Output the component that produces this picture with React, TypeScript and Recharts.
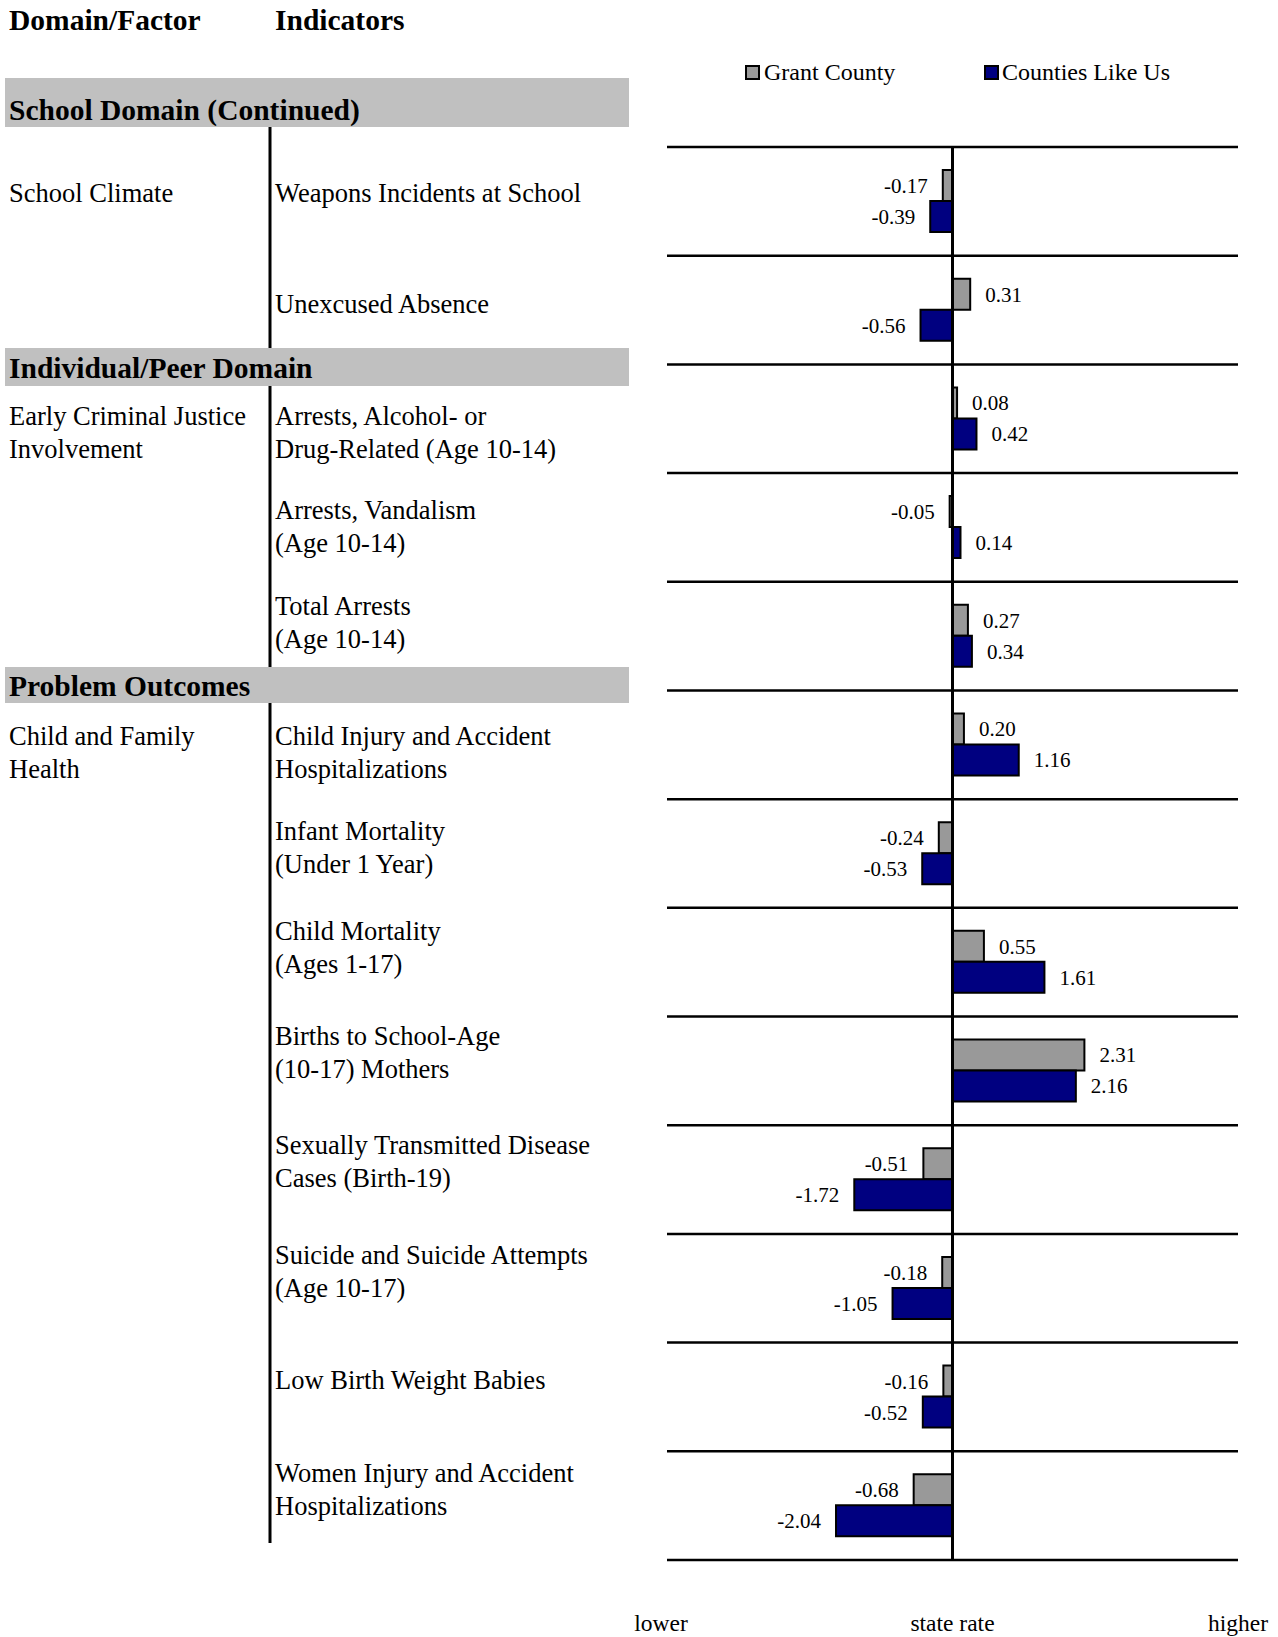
import React from 'react'
import { BarChart, Bar, XAxis, YAxis, ReferenceLine, LabelList } from 'recharts'

// Indicators, top to bottom (each entry is the lines of the label)
const indicatorLines = [
  ['Weapons Incidents at School'],
  ['Unexcused Absence'],
  ['Arrests, Alcohol- or', 'Drug-Related (Age 10-14)'],
  ['Arrests, Vandalism', '(Age 10-14)'],
  ['Total Arrests', '(Age 10-14)'],
  ['Child Injury and Accident', 'Hospitalizations'],
  ['Infant Mortality', '(Under 1 Year)'],
  ['Child Mortality', '(Ages 1-17)'],
  ['Births to School-Age', '(10-17) Mothers'],
  ['Sexually Transmitted Disease', 'Cases (Birth-19)'],
  ['Suicide and Suicide Attempts', '(Age 10-17)'],
  ['Low Birth Weight Babies'],
  ['Women Injury and Accident', 'Hospitalizations'],
]

const grantCounty = [-0.17, 0.31, 0.08, -0.05, 0.27, 0.2, -0.24, 0.55, 2.31, -0.51, -0.18, -0.16, -0.68]
const countiesLikeUs = [-0.39, -0.56, 0.42, 0.14, 0.34, 1.16, -0.53, 1.61, 2.16, -1.72, -1.05, -0.52, -2.04]

const seriesNames = ['Grant County', 'Counties Like Us']

const sectionTitles = ['School Domain (Continued)', 'Individual/Peer Domain', 'Problem Outcomes']
const factorLines = [['School Climate'], ['Early Criminal Justice', 'Involvement'], ['Child and Family', 'Health']]
const factorRows = [0, 2, 5]

const axisTicks = [-5, 0, 5]
const axisWords = ['lower', 'state rate', 'higher']

// layout of the table beside the chart
const rowBaselines = [202, 313, 425, 519, 615, 745, 840, 940, 1045, 1154, 1264, 1389, 1482]
const sectionBands = [
  { top: 78, height: 49, base: 120 },
  { top: 348, height: 38, base: 378 },
  { top: 667, height: 36, base: 696 },
]
const LINE_GAP = 33

const GRAY = '#999999'
const NAVY = '#000080'
const FONT = '"Liberation Serif", "Times New Roman", serif'

const data = indicatorLines.map((lines, i) => ({
  name: lines.join(' '),
  grant: grantCounty[i],
  counties: countiesLikeUs[i],
}))

function AxisTick({ x, y, payload }: any) {
  const i = axisTicks.indexOf(payload.value)
  return (
    <text x={x + (i === 0 ? -6 : 0)} y={y + 63} textAnchor="middle" fontSize={23.5} fontFamily={FONT} fill="#000">
      {axisWords[i]}
    </text>
  )
}

const fmt = (v: any) => Number(v).toFixed(2)

function Table() {
  return (
    <svg width={1278} height={1637} style={{ position: 'absolute', left: 0, top: 0 }} fontFamily={FONT}>
      <text x={9} y={30} fontSize={29.5} fontWeight="bold">Domain/Factor</text>
      <text x={275} y={30} fontSize={29.5} fontWeight="bold">Indicators</text>

      <line x1={270} x2={270} y1={127} y2={1543} stroke="#000" strokeWidth={3} />

      {sectionBands.map((b, i) => (
        <g key={i}>
          <rect x={5} y={b.top} width={624} height={b.height} fill="#c0c0c0" />
          <text x={9} y={b.base} fontSize={29.5} fontWeight="bold">{sectionTitles[i]}</text>
        </g>
      ))}

      {factorLines.map((lines, i) =>
        lines.map((t, j) => (
          <text key={i + '-' + j} x={9} y={rowBaselines[factorRows[i]] + j * LINE_GAP} fontSize={26.5}>
            {t}
          </text>
        ))
      )}

      {indicatorLines.map((lines, i) =>
        lines.map((t, j) => (
          <text key={i + '-' + j} x={275} y={rowBaselines[i] + j * LINE_GAP} fontSize={26.5}>
            {t}
          </text>
        ))
      )}

      {/* legend */}
      {seriesNames.map((n, i) => (
        <g key={n}>
          <rect x={i === 0 ? 746 : 985} y={66} width={13} height={13} fill={i === 0 ? GRAY : NAVY} stroke="#000" strokeWidth={2} />
          <text x={i === 0 ? 764 : 1002} y={80} fontSize={24}>{n}</text>
        </g>
      ))}
    </svg>
  )
}

export default function App() {
  const last = data[data.length - 1].name
  return (
    <div style={{ position: 'absolute', left: 0, top: 0, width: 1278, height: 1637, background: '#fff' }}>
      <Table />
      <div style={{ position: 'absolute', left: 0, top: 0 }}>
        <BarChart
          width={1278}
          height={1637}
          data={data}
          layout="vertical"
          margin={{ top: 147, right: 40, left: 667, bottom: 0 }}
          barGap={0}
          barSize={31}
        >
          <XAxis
            type="number"
            domain={[-5, 5]}
            ticks={axisTicks}
            interval={0}
            axisLine={false}
            tickLine={false}
            height={77}
            tick={<AxisTick />}
          />
          <YAxis type="category" dataKey="name" hide />
          {/* row separators on the top edge of every band, plus the bottom edge of the last */}
          {data.map((d) => (
            <ReferenceLine key={d.name} y={d.name} position="start" stroke="#000" strokeWidth={2.5} />
          ))}
          <ReferenceLine y={last} position="end" stroke="#000" strokeWidth={2.5} />
          <Bar dataKey="grant" name={seriesNames[0]} fill={GRAY} stroke="#000" strokeWidth={2} isAnimationActive={false}>
            <LabelList dataKey="grant" position="right" offset={15} formatter={fmt} fontSize={21} fontFamily={FONT} fill="#000" />
          </Bar>
          <Bar dataKey="counties" name={seriesNames[1]} fill={NAVY} stroke="#000" strokeWidth={2} isAnimationActive={false}>
            <LabelList dataKey="counties" position="right" offset={15} formatter={fmt} fontSize={21} fontFamily={FONT} fill="#000" />
          </Bar>
          <ReferenceLine x={0} stroke="#000" strokeWidth={3} />
        </BarChart>
      </div>
    </div>
  )
}
